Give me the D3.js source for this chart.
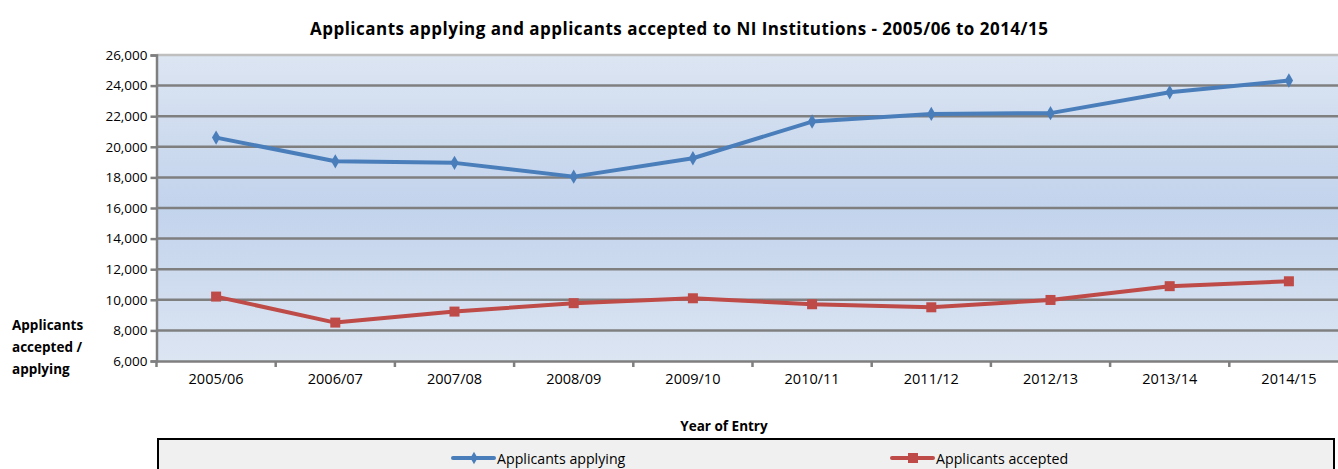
<!DOCTYPE html>
<html><head><meta charset="utf-8">
<script src="https://cdn.jsdelivr.net/npm/d3@7"></script>
<style>body{margin:0;background:#fff;overflow:hidden}svg{display:block;font-family:"Open Sans","Liberation Sans",sans-serif}</style>
</head><body><svg id="c" width="1338" height="469"></svg>
<script>
const categories = ["2005/06","2006/07","2007/08","2008/09","2009/10","2010/11","2011/12","2012/13","2013/14","2014/15"];
const applying = [20600,19050,18950,18050,19250,21650,22150,22200,23570,24330];
const accepted = [10210,8510,9230,9780,10100,9710,9510,9990,10890,11210];
const yTicks = [6000,8000,10000,12000,14000,16000,18000,20000,22000,24000,26000];
const seriesNames = ["Applicants applying","Applicants accepted"];
const colors = ["#4a7ebb","#be4b48"];

(function(){
const svg = d3.select("#c");
const pL = 156.5, pR = 1348.5, pT = 55, pB = 361;
const x = d3.scaleBand().domain(categories).range([pL, pR]);
const y = d3.scaleLinear().domain([6000, 26000]).range([pB, pT]);
const cx = d => x(d) + x.bandwidth()/2;

const defs = svg.append("defs");
const g = defs.append("linearGradient").attr("id","bg").attr("x1",0).attr("y1",0).attr("x2",0).attr("y2",1);
g.append("stop").attr("offset","0%").attr("stop-color","#dce5f2");
g.append("stop").attr("offset","50%").attr("stop-color","#c2d3ec");
g.append("stop").attr("offset","100%").attr("stop-color","#dce5f2");

svg.append("rect").attr("x",pL).attr("y",pT).attr("width",pR-pL).attr("height",pB-pT).attr("fill","url(#bg)");

svg.append("g").selectAll("line").data(yTicks.filter(t=>t>6000 && t<26000)).join("line")
  .attr("x1",pL).attr("x2",pR).attr("y1",d=>y(d)).attr("y2",d=>y(d))
  .attr("stroke","#7f7f7f").attr("stroke-width",2.5);
svg.append("line").attr("x1",pL).attr("x2",pR).attr("y1",y(26000)).attr("y2",y(26000)).attr("stroke","#bfbfbf").attr("stroke-width",2.5);

const ya = svg.append("g").attr("transform",`translate(${pL},0)`)
  .call(d3.axisLeft(y).tickValues(yTicks).tickFormat(d3.format(",")).tickSize(6).tickPadding(3));
ya.select(".domain").attr("stroke","#7f7f7f").attr("stroke-width",2.5);
ya.selectAll(".tick line").attr("stroke","#7f7f7f").attr("stroke-width",2.5);
ya.selectAll("text").attr("font-size",13.5).attr("fill","#000").attr("font-family","'Open Sans',sans-serif");

const xa = svg.append("g").attr("transform",`translate(0,${pB})`)
  .call(d3.axisBottom(x).tickSize(0).tickPadding(13));
xa.select(".domain").attr("stroke","#7f7f7f").attr("stroke-width",2.5);
xa.selectAll("text").attr("font-size",14.5).attr("fill","#000").attr("font-family","'Open Sans',sans-serif");
svg.append("g").selectAll("line").data(categories).join("line")
  .attr("x1",d=>x(d)).attr("x2",d=>x(d)).attr("y1",pB).attr("y2",pB+6)
  .attr("stroke","#7f7f7f").attr("stroke-width",2.5);

const line = d3.line().x((d,i)=>cx(categories[i])).y(d=>y(d));
[applying, accepted].forEach((data,k)=>{
  svg.append("path").datum(data).attr("d",line).attr("fill","none")
    .attr("stroke",colors[k]).attr("stroke-width",4).attr("stroke-linejoin","round");
});
svg.append("g").selectAll("path").data(applying).join("path")
  .attr("d",d3.symbol().type(d3.symbolDiamond).size(60))
  .attr("transform",(d,i)=>`translate(${cx(categories[i])},${y(d)})`).attr("fill",colors[0]);
svg.append("g").selectAll("rect").data(accepted).join("rect")
  .attr("x",(d,i)=>cx(categories[i])-5).attr("y",d=>y(d)-5).attr("width",10).attr("height",10)
  .attr("fill",colors[1]);

svg.append("text").attr("x",679).attr("y",35).attr("text-anchor","middle")
  .attr("font-weight","bold").attr("font-size",17).attr("textLength",738).attr("lengthAdjust","spacing")
  .text("Applicants applying and applicants accepted to NI Institutions - 2005/06 to 2014/15");
svg.append("text").attr("x",724).attr("y",431).attr("text-anchor","middle")
  .attr("font-weight","bold").attr("font-size",13.5).text("Year of Entry");
const yt = svg.append("text").attr("font-weight","bold").attr("font-size",13.5);
["Applicants","accepted /","applying"].forEach((s,i)=>yt.append("tspan").attr("x",12).attr("y",330+i*22).text(s));

svg.append("rect").attr("x",158).attr("y",439).attr("width",1176).attr("height",40).attr("fill","#f0f0f0").attr("stroke","#000").attr("stroke-width",2);
const lg = [{x:453,name:seriesNames[0],c:colors[0],m:"d"},{x:892,name:seriesNames[1],c:colors[1],m:"s"}];
lg.forEach(o=>{
  svg.append("line").attr("x1",o.x).attr("x2",o.x+41).attr("y1",458).attr("y2",458).attr("stroke",o.c).attr("stroke-width",4).attr("stroke-linecap","round");
  if(o.m==="d") svg.append("path").attr("d",d3.symbol().type(d3.symbolDiamond).size(45)).attr("transform",`translate(${o.x+21},458)`).attr("fill",o.c);
  else svg.append("rect").attr("x",o.x+16).attr("y",453).attr("width",10).attr("height",10).attr("fill",o.c);
  svg.append("text").attr("x",o.x+44).attr("y",464).attr("font-size",14.2).text(o.name);
});
})();
</script></body></html>
